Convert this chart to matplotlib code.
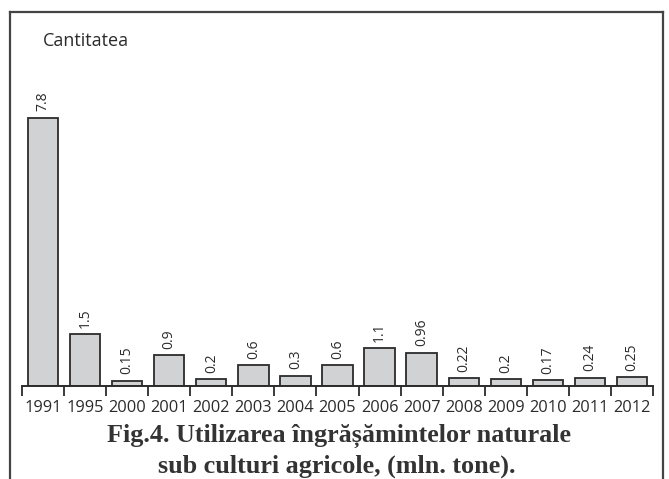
import matplotlib.pyplot as plt
from matplotlib.lines import Line2D
from matplotlib.ticker import FixedLocator

years = ['1991', '1995', '2000', '2001', '2002', '2003', '2004', '2005',
         '2006', '2007', '2008', '2009', '2010', '2011', '2012']
values = [7.8, 1.5, 0.15, 0.9, 0.2, 0.6, 0.3, 0.6, 1.1, 0.96, 0.22, 0.2, 0.17, 0.24, 0.25]
labels = ['7.8', '1.5', '0.15', '0.9', '0.2', '0.6', '0.3', '0.6', '1.1', '0.96',
          '0.22', '0.2', '0.17', '0.24', '0.25']

W, H = 669, 479
fig = plt.figure(figsize=(W / 100, H / 100), dpi=100)

# axes: x from 22 to 653 px, baseline at y=386 px, top at border
ax = fig.add_axes([22 / W, (H - 386) / H, (653 - 22) / W, (386 - 12) / H])
x = list(range(len(years)))
ax.bar(x, values, width=0.72, color='#d1d2d4', edgecolor='#2b2b2b', linewidth=1.3)
ax.set_xlim(-0.5, len(years) - 0.5)
ax.set_ylim(0, (386 - 12) / 34.4)

for xi, v, lab in zip(x, values, labels):
    ax.text(xi, v + 0.19, lab, rotation=90, ha='center', va='bottom',
            fontsize=10, family='Open Sans', color='#2b2b2b')

for s in ['top', 'left', 'right']:
    ax.spines[s].set_visible(False)
ax.spines['bottom'].set_linewidth(1.4)
ax.spines['bottom'].set_color('#2b2b2b')
ax.set_yticks([])
ax.set_xticks(x)
ax.set_xticklabels(years, fontsize=11.8, family='Open Sans', color='#2b2b2b')
ax.tick_params(axis='x', which='major', length=0, pad=10)
ax.xaxis.set_minor_locator(FixedLocator([i - 0.5 for i in range(len(years) + 1)]))
ax.tick_params(axis='x', which='minor', length=7, width=1.3, color='#2b2b2b')
ax.patch.set_visible(False)

# frame around the figure (no bottom edge)
fx0, fx1, fy0 = 10 / W, 663 / W, (H - 12) / H
for xs, ys in [([fx0, fx0], [0, fy0]), ([fx0, fx1], [fy0, fy0]), ([fx1, fx1], [fy0, 0])]:
    fig.add_artist(Line2D(xs, ys, transform=fig.transFigure, color='#444444', linewidth=1.6))

fig.text(43 / W, (H - 41) / H, 'Cantitatea', fontsize=13, family='Open Sans',
         color='#2b2b2b', va='center', ha='left')

fig.text(339 / W, (H - 436) / H, 'Fig.4. Utilizarea îngrășămintelor naturale',
         fontsize=18.8, family='Liberation Serif', weight='bold', color='#333333',
         ha='center', va='center')
fig.text(337 / W, (H - 466) / H, 'sub culturi agricole, (mln. tone).',
         fontsize=18.8, family='Liberation Serif', weight='bold', color='#333333',
         ha='center', va='center')

fig.savefig('out.png', dpi=100)
